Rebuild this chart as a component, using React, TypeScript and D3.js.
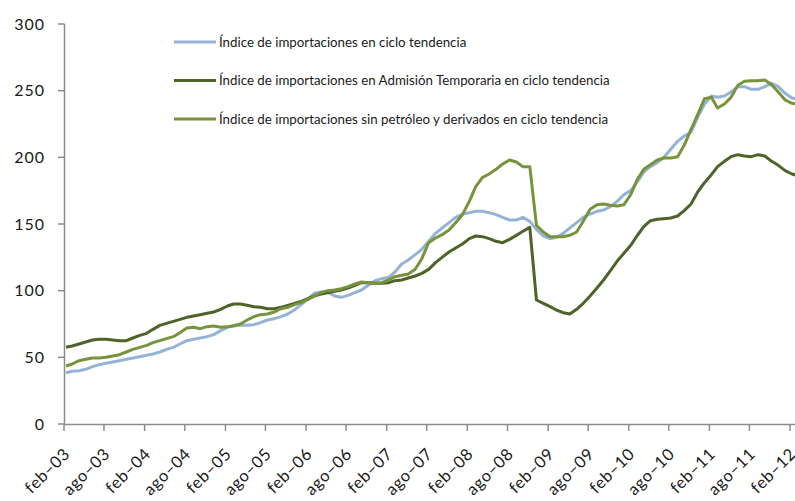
import React, { useEffect, useRef } from "react";
import * as d3 from "d3";

// monthly values, feb-03 .. mar-12
const indiceTotal = [
  38.5, 39.5, 40, 41, 43, 44.5, 45.5, 46.5, 47.5, 48.5, 49.5, 50.5,
  51.5, 52.5, 54, 56, 57.5, 60, 62.5, 63.5, 64.5, 65.5, 67, 70,
  72.5, 74, 74, 74, 74.5, 76, 78, 79, 80.5, 82.5, 85.5, 89.5,
  94, 98, 99, 99, 96, 95, 96.5, 98.5, 100.5, 104, 107.5, 109,
  110, 114, 120, 123, 127, 131, 137, 143, 147, 151, 155, 157.5,
  158.5, 159.5, 159.5, 158.5, 157, 155, 153, 153, 155, 152, 146, 141,
  139, 140, 143, 147, 151, 155, 157.5, 159.5, 160.5, 163, 167, 172,
  175, 181, 189, 193, 196, 200, 206, 212, 216, 219, 230, 240,
  246, 245, 246, 249, 253, 253, 251, 251, 253, 255.5, 253, 248,
  244.5, 243.5
];

const admisionTemporaria = [
  57.5, 58.5, 60, 61.5, 63, 63.5, 63.5, 63, 62.5, 62.5, 64.5, 66.5,
  68, 71, 74, 75.5, 77, 78.5, 80, 81, 82, 83, 84, 86,
  88.5, 90, 90, 89, 88, 87.5, 86.5, 86.5, 87.5, 89, 90.5, 92,
  94, 96, 97.5, 98.5, 99.5, 100.5, 102, 104, 106, 106, 105.5, 105.5,
  106, 107.5, 108, 109.5, 111, 113, 116, 121, 125, 129, 132, 135,
  139, 141, 140.5, 139, 137, 136, 138.5, 141.5, 144.5, 147.5, 93, 90.5,
  88, 85.5, 83.5, 82.5, 86, 90.5, 96, 102, 108, 115, 122, 128,
  134, 141, 148, 152.5, 153.5, 154, 154.5, 156, 160, 165, 174, 181,
  187, 193, 197, 200.5, 202, 201, 200.5, 202, 201, 197, 194, 190,
  187.5, 186
];

const sinPetroleo = [
  43.5, 45, 47.5, 48.5, 49.5, 49.5, 50, 51, 52, 54, 56, 57.5,
  59, 61, 62.5, 64, 65.5, 68.5, 72, 72.5, 71.5, 73, 73.5, 72.5,
  73, 73.5, 75, 78, 80.5, 82, 82.5, 84, 86.5, 87.5, 89.5, 91,
  93.5, 96, 98.5, 100, 100.5, 101.5, 103, 105, 106.5, 106, 105.5, 106,
  108, 110.5, 111.5, 112.5, 116, 124, 136, 139.5, 142, 145.5, 151, 157,
  167, 178, 185, 187.5, 191, 195, 198, 196.5, 193, 193, 149, 144,
  140.5, 140.5, 140.5, 141.5, 144, 152, 161, 164.5, 165, 164, 163.5, 164.5,
  172, 183, 191, 194.5, 198, 199.5, 199.5, 200.5, 209, 221, 232, 244,
  245, 237, 240, 245, 254, 257, 257.5, 257.5, 258, 254.5, 249, 243,
  240.5, 240
];

const seriesNames = [
  "Índice de importaciones en ciclo tendencia",
  "Índice de importaciones en Admisión Temporaria en ciclo tendencia",
  "Índice de importaciones sin petróleo y derivados en ciclo tendencia",
];
const seriesColors = ["#95B3D7", "#4F6228", "#77933C"];
const yTicks = [0, 50, 100, 150, 200, 250, 300];
const mesNombres = ["feb", "ago"];

const W = 795;
const H = 501;

export default function App() {
  const ref = useRef<SVGSVGElement>(null);

  useEffect(() => {
    const svg = d3.select(ref.current);
    svg.selectAll("*").remove();

    const fechas = indiceTotal.map((_, i) => new Date(2003, 1 + i, 10));
    const tickFechas = d3.range(19).map(i => new Date(2003 + Math.floor(i / 2), i % 2 ? 7 : 1, 1));

    const x = d3.scaleTime()
      .domain([new Date(2003, 1, 1), new Date(2012, 1, 1)])
      .range([64, 790]);
    const y = d3.scaleLinear().domain([0, 300]).range([424, 24]);

    const axisColor = "#8c8c8c";
    const font = "Lato, 'Open Sans', sans-serif";

    // y axis
    svg.append("line")
      .attr("x1", 64.5).attr("x2", 64.5)
      .attr("y1", y(300)).attr("y2", y(0))
      .attr("stroke", axisColor).attr("stroke-width", 1.5);
    const yg = svg.append("g");
    yg.selectAll("line").data(yTicks).enter().append("line")
      .attr("x1", 58).attr("x2", 64.5)
      .attr("y1", d => y(d)).attr("y2", d => y(d))
      .attr("stroke", axisColor).attr("stroke-width", 1.5);
    yg.selectAll("text").data(yTicks).enter().append("text")
      .attr("x", 45).attr("y", d => y(d))
      .attr("dy", "0.35em")
      .attr("text-anchor", "end")
      .attr("font-family", font).attr("font-size", 16)
      .attr("letter-spacing", 1)
      .attr("fill", "#1a1a1a")
      .text(d => d);

    // x axis
    svg.append("line")
      .attr("x1", 64).attr("x2", W)
      .attr("y1", 424.5).attr("y2", 424.5)
      .attr("stroke", axisColor).attr("stroke-width", 1.5);
    const xg = svg.append("g");
    xg.selectAll("line").data(tickFechas).enter().append("line")
      .attr("x1", d => x(d)).attr("x2", d => x(d))
      .attr("y1", 424.5).attr("y2", 431)
      .attr("stroke", axisColor).attr("stroke-width", 1.5);
    xg.selectAll("text").data(tickFechas).enter().append("text")
      .attr("transform", d => `translate(${x(d) + 7}, 455) rotate(-45)`)
      .attr("text-anchor", "end")
      .attr("font-family", font).attr("font-size", 16.5)
      .attr("letter-spacing", 0.6)
      .attr("fill", "#1a1a1a")
      .text((d, i) => `${mesNombres[i % 2]}–${String(d.getFullYear()).slice(2)}`);

    // lines
    const line = d3.line<number>()
      .x((_, i) => x(fechas[i]))
      .y(d => y(d));
    [indiceTotal, admisionTemporaria, sinPetroleo].forEach((s, k) => {
      svg.append("path")
        .datum(s)
        .attr("d", line)
        .attr("fill", "none")
        .attr("stroke", seriesColors[k])
        .attr("stroke-width", 3)
        .attr("stroke-linejoin", "round");
    });

    // legend
    const lg = svg.append("g");
    seriesNames.forEach((name, k) => {
      const ly = 42 + k * 38.5;
      lg.append("line")
        .attr("x1", 174).attr("x2", 216)
        .attr("y1", ly).attr("y2", ly)
        .attr("stroke", seriesColors[k]).attr("stroke-width", 3);
      lg.append("text")
        .attr("x", 219).attr("y", ly)
        .attr("dy", "0.35em")
        .attr("font-family", font).attr("font-size", 13.3)
        .attr("fill", "#1a1a1a")
        .text(name);
    });
  }, []);

  return (
    <svg ref={ref} width={W} height={H}
      style={{ position: "absolute", left: 0, top: 0, background: "#fff" }} />
  );
}
